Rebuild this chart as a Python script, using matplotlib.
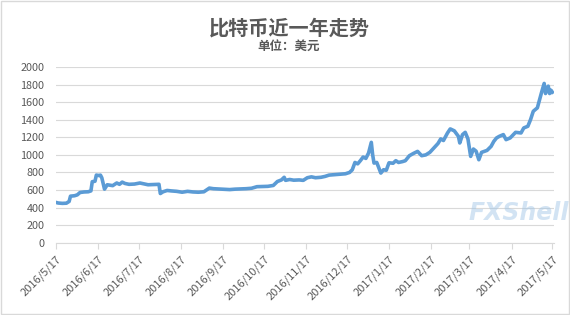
import matplotlib
matplotlib.use("Agg")
import matplotlib.pyplot as plt
import pandas as pd

plt.rcParams['font.family'] = ['Noto Sans CJK SC', 'DejaVu Sans']

title = "比特币近一年走势"
subtitle = "单位：美元"

dates = [
    "2016-05-17", "2016-05-19", "2016-05-22", "2016-05-25", "2016-05-27", "2016-05-28",
    "2016-05-31", "2016-06-02", "2016-06-04", "2016-06-07", "2016-06-10", "2016-06-12",
    "2016-06-13", "2016-06-15", "2016-06-16", "2016-06-18", "2016-06-19", "2016-06-20",
    "2016-06-22", "2016-06-24", "2016-06-26", "2016-06-28", "2016-07-01", "2016-07-03",
    "2016-07-05", "2016-07-07", "2016-07-10", "2016-07-14", "2016-07-18", "2016-07-21",
    "2016-07-24", "2016-07-28", "2016-08-01", "2016-08-02", "2016-08-04", "2016-08-07",
    "2016-08-10", "2016-08-14", "2016-08-18", "2016-08-22", "2016-08-26", "2016-08-30",
    "2016-09-03", "2016-09-07", "2016-09-10", "2016-09-14", "2016-09-18", "2016-09-22",
    "2016-09-26", "2016-09-30", "2016-10-04", "2016-10-08", "2016-10-12", "2016-10-16",
    "2016-10-20", "2016-10-24", "2016-10-27", "2016-10-30", "2016-11-01", "2016-11-02",
    "2016-11-05", "2016-11-08", "2016-11-12", "2016-11-15", "2016-11-18", "2016-11-21",
    "2016-11-24", "2016-11-28", "2016-12-01", "2016-12-04", "2016-12-08", "2016-12-12",
    "2016-12-16", "2016-12-19", "2016-12-21", "2016-12-23", "2016-12-25", "2016-12-27",
    "2016-12-29", "2016-12-31", "2017-01-02", "2017-01-04", "2017-01-05", "2017-01-06",
    "2017-01-08", "2017-01-11", "2017-01-13", "2017-01-15", "2017-01-17", "2017-01-20",
    "2017-01-22", "2017-01-24", "2017-01-27", "2017-01-29", "2017-02-01", "2017-02-04",
    "2017-02-07", "2017-02-10", "2017-02-13", "2017-02-16", "2017-02-19", "2017-02-22",
    "2017-02-24", "2017-02-26", "2017-03-01", "2017-03-03", "2017-03-06", "2017-03-09",
    "2017-03-10", "2017-03-12", "2017-03-14", "2017-03-16", "2017-03-18", "2017-03-20",
    "2017-03-22", "2017-03-24", "2017-03-26", "2017-03-30", "2017-04-02", "2017-04-04",
    "2017-04-06", "2017-04-08", "2017-04-11", "2017-04-13", "2017-04-16", "2017-04-20",
    "2017-04-24", "2017-04-26", "2017-04-29", "2017-05-01", "2017-05-03", "2017-05-06",
    "2017-05-07", "2017-05-09", "2017-05-11", "2017-05-12", "2017-05-14", "2017-05-15",
    "2017-05-16", "2017-05-17",
]
prices = [
    460, 452, 448, 450, 470, 530,
    535, 545, 572, 578, 580, 590,
    695, 700, 770, 765, 770, 740,
    610, 660, 655, 650, 680, 665,
    690, 675, 665, 668, 680, 670,
    660, 662, 665, 560, 580, 595,
    590, 585, 575, 585, 578, 575,
    580, 622, 615, 612, 608, 605,
    610, 612, 615, 620, 638, 640,
    642, 652, 697, 715, 745, 710,
    720, 712, 715, 710, 740, 750,
    740, 745, 755, 770, 775, 780,
    785, 800, 830, 914, 898, 935,
    976, 960, 1022, 1143, 1000, 907,
    914, 793, 831, 825, 910, 905,
    934, 914, 924, 934, 991, 1017,
    1040, 991, 1000, 1029, 1079, 1130,
    1182, 1164, 1250, 1296, 1274, 1211,
    1136, 1231, 1257, 1182, 983, 1067,
    1042, 945, 1029, 1051, 1097, 1154,
    1193, 1211, 1231, 1174, 1193, 1257,
    1250, 1307, 1326, 1402, 1497, 1536,
    1593, 1707, 1814, 1699, 1783, 1699,
    1737, 1714,
]
tick_dates = ["2016-%d-17" % m for m in range(5, 13)] + ["2017-%d-17" % m for m in range(1, 6)]
tick_labels = [d.replace("-0", "-").replace("-", "/") for d in tick_dates]

x = pd.to_datetime(dates)
xt = pd.to_datetime(tick_dates)

fig = plt.figure(figsize=(5.7, 3.15), dpi=100)
ax = fig.add_axes([0.0974, 0.2295, 0.874, 0.5575])

grey = "#595959"

# faint watermark, behind the line
ax.text(0.93, 0.17, "FXShell", transform=ax.transAxes, ha="center", va="center",
        fontsize=17, fontweight="bold", style="italic", color="#9DC3E6", alpha=0.45,
        family="DejaVu Sans", zorder=1, clip_on=False)

ax.plot(x, prices, color="#5B9BD5", lw=2.6, solid_joinstyle="round", zorder=3)

ax.set_ylim(0, 2000)
ax.set_yticks(range(0, 2001, 200))
ax.set_xlim(x[0], x[-1] + pd.Timedelta(days=1))
ax.set_xticks(xt)
ax.set_xticklabels(tick_labels, rotation=45, ha="right", rotation_mode="anchor")
ax.tick_params(axis="x", colors="#D9D9D9", labelcolor=grey, labelsize=8,
               length=4, width=0.8, pad=4)
ax.tick_params(axis="y", labelcolor=grey, labelsize=7.8, length=0, pad=8)
ax.grid(axis="y", color="#D9D9D9", lw=0.8)
ax.set_axisbelow(True)
for s in ["top", "right", "left"]:
    ax.spines[s].set_visible(False)
ax.spines["bottom"].set_color("#D9D9D9")
ax.spines["bottom"].set_linewidth(0.8)

fig.text(0.507, 0.912, title, ha="center", va="center", fontsize=14.5,
         fontweight="bold", color=grey)
fig.text(0.507, 0.853, subtitle, ha="center", va="center", fontsize=9,
         fontweight="bold", color=grey)

fig.patches.append(plt.Rectangle((0.001, 0.002), 0.997, 0.995, transform=fig.transFigure,
                                 fill=False, ec="#D9D9D9", lw=1))

fig.savefig("out.png", dpi=100)
